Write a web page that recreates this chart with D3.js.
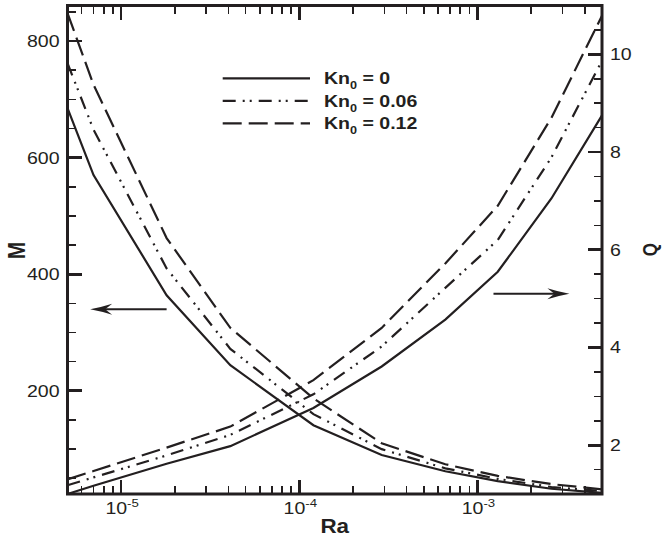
<!DOCTYPE html>
<html>
<head>
<meta charset="utf-8">
<script src="https://cdn.jsdelivr.net/npm/d3@7"></script>
<style>
  body { margin: 0; background: #fff; }
  text { font-family: "Liberation Sans", Arial, Helvetica, sans-serif; fill: #231f20; }
</style>
</head>
<body>
<svg id="chart" width="663" height="542"></svg>
<script>
// Rayleigh number nodes shared by every curve
const ra = [5e-6, 7e-6, 1.8e-5, 4.1e-5, 1.2e-4, 2.9e-4, 6.6e-4, 1.3e-3, 2.6e-3, 5e-3];

// M (left axis) for each Kn0
const mKn0   = [685, 570, 364, 244, 141, 90, 62, 45, 32, 25];
const mKn006 = [762, 648, 410, 272, 160, 100, 67, 49, 35, 28];
const mKn012 = [848, 725, 462, 308, 187, 110, 74, 54, 40, 31];

// Q (right axis) for each Kn0
const qKn0   = [1.00, 1.17, 1.62, 1.98, 2.76, 3.61, 4.57, 5.55, 7.05, 8.75];
const qKn006 = [1.18, 1.34, 1.79, 2.21, 3.04, 4.02, 5.22, 6.20, 7.89, 9.87];
const qKn012 = [1.30, 1.47, 1.95, 2.38, 3.33, 4.40, 5.72, 6.90, 8.70, 10.79];

const knLabels = ["0", "0.06", "0.12"];
const mTicks = [200, 400, 600, 800];
const qTicks = [2, 4, 6, 8, 10];
const raTicks = [1e-5, 1e-4, 1e-3];

const ink = "#231f20";
const dashes = [null, "13,7,2,5,2,7", "19,7"];
const stretch = 1.15;

const L = 67.5, R = 602, T = 5.5, B = 494;

const svg = d3.select("#chart");

const x = d3.scaleLog().domain([5e-6, 5e-3]).range([L, R]);
const yM = d3.scaleLinear().domain([23, 861]).range([B, T]);
const yQ = d3.scaleLinear().domain([1, 11]).range([B, T]);

// minor tick values
const raMinor = [];
for (let e = -6; e <= -3; e++) {
  for (let k = 2; k <= 9; k++) {
    const v = k * Math.pow(10, e);
    if (v >= 5e-6 && v <= 5e-3) raMinor.push(v);
  }
}
const mMinor = d3.range(50, 861, 50).filter(v => v % 200 !== 0);
const qMinor = d3.range(1.5, 11, 0.5).filter(v => v % 2 !== 0);

// inward ticks on all four sides
const tickLayer = svg.append("g").attr("stroke", ink).attr("shape-rendering", "crispEdges");
function hTicks(vals, len, w) {
  [[B, -1], [T, 1]].forEach(([y0, dir]) => {
    tickLayer.selectAll(null).data(vals).join("line")
      .attr("x1", d => x(d)).attr("x2", d => x(d))
      .attr("y1", y0).attr("y2", y0 + dir * len)
      .attr("stroke-width", w);
  });
}
function vTicks(scale, x0, dir, vals, len, w) {
  tickLayer.selectAll(null).data(vals).join("line")
    .attr("x1", x0).attr("x2", x0 + dir * len)
    .attr("y1", d => scale(d)).attr("y2", d => scale(d))
    .attr("stroke-width", w);
}
hTicks(raTicks, 14, 2.5);
hTicks(raMinor, 8, 1.6);
vTicks(yM, L, 1, mTicks, 14, 2.7);
vTicks(yM, L, 1, mMinor, 8, 1.6);
vTicks(yQ, R, -1, qTicks, 14, 2.7);
vTicks(yQ, R, -1, qMinor, 8, 1.6);

// frame
svg.append("rect").attr("x", L).attr("y", T).attr("width", R - L).attr("height", B - T)
  .attr("fill", "none").attr("stroke", ink).attr("stroke-width", 3);

// curves
const lineM = d3.line().x((d, i) => x(ra[i])).y(d => yM(d));
const lineQ = d3.line().x((d, i) => x(ra[i])).y(d => yQ(d));
[mKn0, mKn006, mKn012].forEach((s, k) => {
  svg.append("path").attr("d", lineM(s)).attr("fill", "none")
    .attr("stroke", ink).attr("stroke-width", 2.2)
    .attr("stroke-dasharray", dashes[k]);
});
[qKn0, qKn006, qKn012].forEach((s, k) => {
  svg.append("path").attr("d", lineQ(s)).attr("fill", "none")
    .attr("stroke", ink).attr("stroke-width", 2.2)
    .attr("stroke-dasharray", dashes[k]);
});

// text helper: slightly widened glyphs
function label(px, py, anchor, size, weight, rotate) {
  const g = svg.append("g")
    .attr("transform", `translate(${px},${py}) scale(${stretch},1)` + (rotate ? ` rotate(${rotate})` : ""));
  return g.append("text").attr("text-anchor", anchor)
    .attr("font-size", size).attr("font-weight", weight || "normal");
}

mTicks.forEach(v => {
  label(L - 8, yM(v) + 6, "end", 17).text(v);
});
qTicks.forEach(v => {
  label(R + 8, yQ(v) + 6, "start", 17).text(v);
});
raTicks.forEach(v => {
  const t = label(x(v) + 1, B + 19.5, "middle", 17);
  t.append("tspan").text("10");
  t.append("tspan").attr("font-size", 11.5).attr("dy", -7)
    .text("-" + Math.abs(Math.round(Math.log10(v))));
});

// axis titles
label((L + R) / 2, 533, "middle", 19.5, "bold").text("Ra");
label(16.5, 250.5, "middle", 21, "bold", -90).attr("dy", "0.35em").text("M");
label(650, yQ(6), "middle", 17, "bold", -90).attr("dy", "0.35em").text("Q");

// arrows pointing to the axis each family belongs to
const headPath = "M0,0 Q11,-2 22,-5.5 L15,0 L22,5.5 Q11,2 0,0 Z";
function arrow(x0, x1, yPix) {
  const dir = x1 < x0 ? 1 : -1;
  svg.append("line").attr("x1", x0).attr("x2", x1 + dir * 12).attr("y1", yPix).attr("y2", yPix)
    .attr("stroke", ink).attr("stroke-width", 2);
  svg.append("path").attr("d", headPath).attr("fill", ink)
    .attr("transform", `translate(${x1},${yPix}) scale(${dir},1)`);
}
arrow(x(1.8e-5), x(6.7e-6), yM(340));
arrow(x(1.23e-3), x(3.28e-3), yQ(5.1));

// legend
knLabels.forEach((lab, k) => {
  const ly = 78.3 + k * 22.5;
  svg.append("line").attr("x1", 222.7).attr("x2", 310).attr("y1", ly).attr("y2", ly)
    .attr("stroke", ink).attr("stroke-width", 2.2).attr("stroke-dasharray", dashes[k]);
  const t = label(324, ly + 6, "start", 17, "bold");
  t.append("tspan").text("Kn");
  t.append("tspan").attr("font-size", 11).attr("dy", 5).text("0");
  t.append("tspan").attr("dy", -5).text(" = " + lab);
});
</script>
</body>
</html>
